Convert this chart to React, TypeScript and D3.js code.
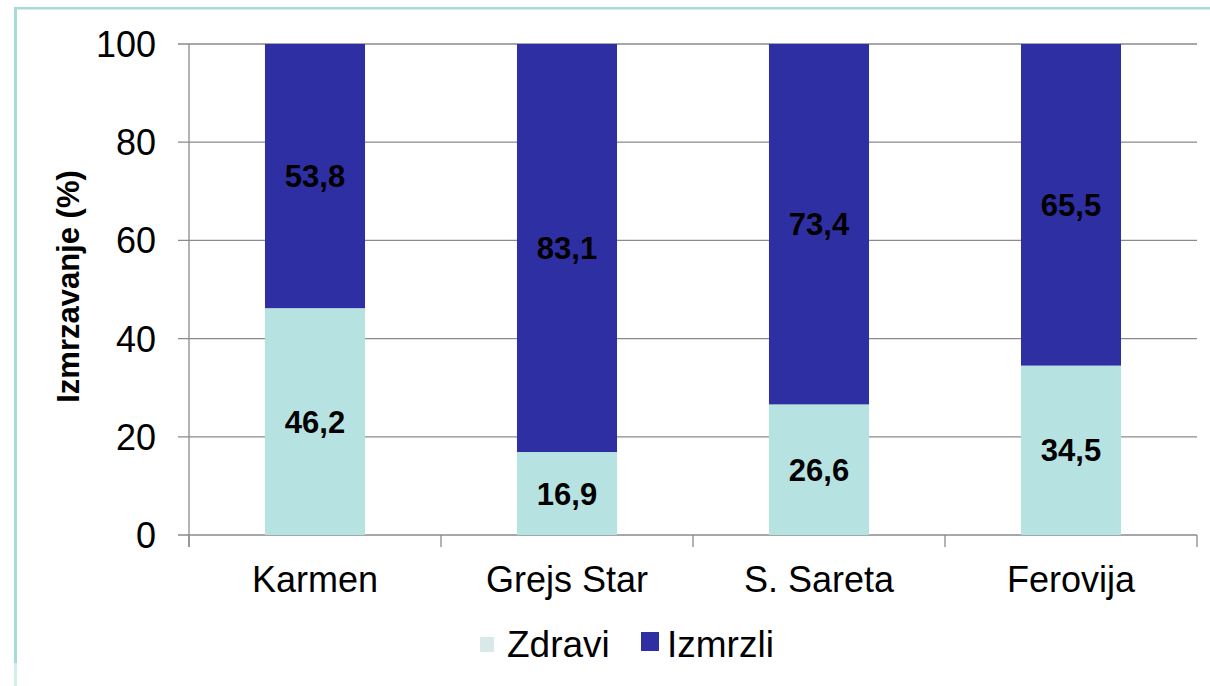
import React from 'react';
import * as d3 from 'd3';

const categories = ['Karmen', 'Grejs Star', 'S. Sareta', 'Ferovija'];
const zdravi = [46.2, 16.9, 26.6, 34.5];
const izmrzli = [53.8, 83.1, 73.4, 65.5];
const yTicks = [0, 20, 40, 60, 80, 100];
const seriesNames = ['Zdravi', 'Izmrzli'];
const seriesColors = ['#b6e2e1', '#2f2fa4'];

const width = 1210;
const height = 686;
const margin = { top: 44, right: 13, bottom: 151, left: 189 };

function fmt(v: number) {
    return v.toFixed(1).replace('.', ',');
}

export default function App() {
    const x = d3
        .scaleBand()
        .domain(categories)
        .range([margin.left, width - margin.right])
        .paddingInner(0.603)
        .paddingOuter(0.3015);
    const y = d3.scaleLinear([0, 100], [height - margin.bottom, margin.top]);

    const rows = categories.map((c, i) => ({ c, Zdravi: zdravi[i], Izmrzli: izmrzli[i] }));
    const stacked = d3.stack<any>().keys(seriesNames)(rows);

    const x0 = margin.left;
    const x1 = width - margin.right;
    const y0 = y(0);
    const step = x.step();
    const bounds = d3.range(categories.length + 1).map((i) => x0 + i * step);
    const font = 'Liberation Sans, Arial, sans-serif';

    return (
        <svg width={width} height={height} style={{ position: 'absolute', left: 0, top: 0 }} fontFamily={font}>
            <rect width={width} height={height} fill="#fff" />
            {/* frame */}
            <rect x={14} y={7} width={width - 14} height={2.5} fill="#a6dbd8" />
            <rect x={14} y={7} width={3} height={656} fill="#a6dbd8" />
            <rect x={14} y={663} width={3} height={23} fill="#d6eeea" />

            {/* grid */}
            <g stroke="#8a8a8a" strokeWidth={1.3}>
                {yTicks.map((t) => (
                    <line key={t} x1={x0 - 11} x2={x1} y1={y(t)} y2={y(t)} />
                ))}
                <line x1={x0} x2={x0} y1={y(100)} y2={y0 + 12} />
                {bounds.map((b, i) => (
                    <line key={i} x1={b} x2={b} y1={y0} y2={y0 + 12} />
                ))}
            </g>

            {/* bars */}
            {stacked.map((s, si) => (
                <g key={s.key} fill={seriesColors[si]}>
                    {s.map((d, i) => (
                        <rect
                            key={i}
                            x={x(categories[i])}
                            width={x.bandwidth()}
                            y={y(d[1])}
                            height={y(d[0]) - y(d[1])}
                        />
                    ))}
                </g>
            ))}

            {/* value labels */}
            {stacked.map((s) =>
                s.map((d, i) => (
                    <text
                        key={s.key + i}
                        x={(x(categories[i]) as number) + x.bandwidth() / 2}
                        y={y((d[0] + d[1]) / 2)}
                        dy="0.36em"
                        textAnchor="middle"
                        fontSize={31}
                        fontWeight="bold"
                        fill="#000"
                    >
                        {fmt(d[1] - d[0])}
                    </text>
                )),
            )}

            {/* y tick labels */}
            {yTicks.map((t) => (
                <text key={t} x={156} y={y(t)} dy="0.36em" textAnchor="end" fontSize={36} fill="#000">
                    {t}
                </text>
            ))}

            {/* x labels */}
            {categories.map((c) => (
                <text
                    key={c}
                    x={(x(c) as number) + x.bandwidth() / 2}
                    y={592}
                    textAnchor="middle"
                    fontSize={36}
                    fill="#000"
                >
                    {c}
                </text>
            ))}

            {/* y title */}
            <text
                transform={`translate(79, ${y(50) - 3}) rotate(-90)`}
                textAnchor="middle"
                fontSize={31}
                fontWeight="bold"
                fill="#000"
            >
                Izmrzavanje (%)
            </text>

            {/* legend */}
            <rect x={480} y={637} width={14} height={15} fill="#d9e9e8" />
            <text x={507} y={657} fontSize={37} fill="#000">{seriesNames[0]}</text>
            <rect x={641} y={632} width={18} height={19} fill={seriesColors[1]} />
            <text x={667} y={657} fontSize={37} fill="#000">{seriesNames[1]}</text>
        </svg>
    );
}
